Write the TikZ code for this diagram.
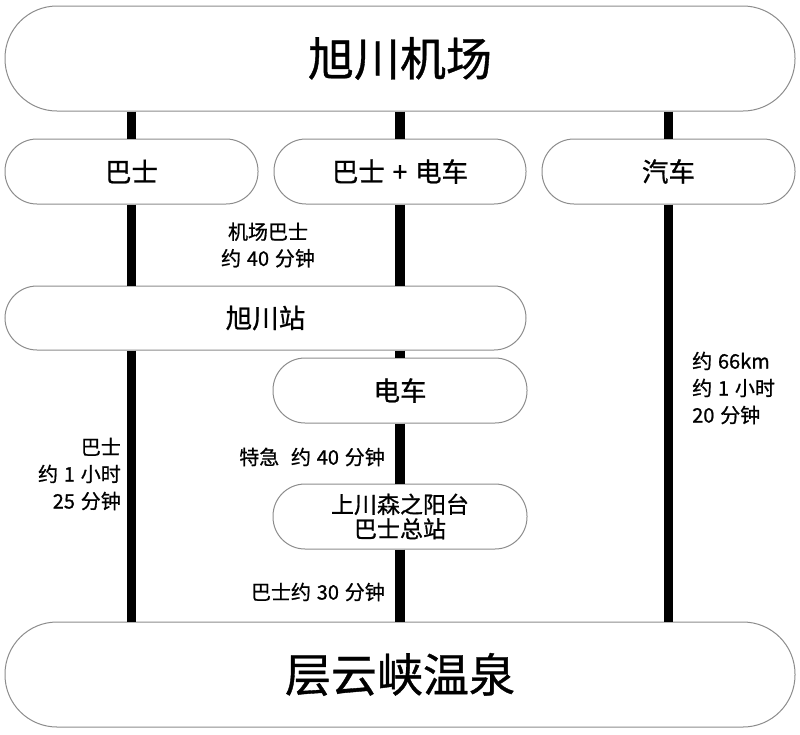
\documentclass[tikz,border=0pt]{standalone}
\usepackage{fontspec}
\setmainfont{Noto Sans CJK SC}[FakeBold=0.8, WordSpace=1.3]
\begin{document}
\begin{tikzpicture}[x=1pt,y=-1pt,
  stad/.style={draw=black!45, line width=1pt, fill=white, inner sep=0pt, align=center},
  bigbox/.style={stad, minimum width=790pt, minimum height=105pt, rounded corners=52pt, font=\fontsize{46}{50}\selectfont},
  midbox/.style={stad, minimum height=65pt, rounded corners=32pt, font=\fontsize{26.5}{30}\selectfont},
  lbl/.style={inner sep=0pt, font=\fontsize{20}{26.5}\selectfont},
  rail/.style={line width=9.5pt, line cap=butt, black}]
\useasboundingbox (0,0) rectangle (800,734);
\node[bigbox] (top) at (400,58.5) {旭川机场};
\node[midbox, minimum width=253pt] (busA) at (131.5,171.5) {巴士};
\node[midbox, minimum width=252pt] (busTrain) at (400,171.5) {巴士 + 电车};
\node[midbox, minimum width=253pt] (car) at (668.5,171.5) {汽车};
\node[midbox, minimum width=521pt, minimum height=64pt] (asahi) at (265.5,318) {旭川站};
\node[midbox, minimum width=254pt] (train) at (400,390.5) {电车};
\node[midbox, minimum width=254pt, font=\fontsize{23}{24.5}\selectfont] (kami) at (400,516.5) {上川森之阳台\\巴士总站};
\node[bigbox] (bottom) at (400,674.5) {层云峡温泉};
% rails
\draw[rail] (top.south -| busA.north) -- (busA.north);
\draw[rail] (busA.south) -- (asahi.north -| busA.south);
\draw[rail] (asahi.south -| busA.south) -- (bottom.north -| busA.south);
\draw[rail] (top.south -| busTrain.north) -- (busTrain.north);
\draw[rail] (busTrain.south) -- (asahi.north -| busTrain.south);
\draw[rail] (asahi.south -| train.north) -- (train.north);
\draw[rail] (train.south) -- (kami.north);
\draw[rail] (kami.south) -- (bottom.north -| kami.south);
\draw[rail] (top.south -| car.north) -- (car.north);
\draw[rail] (car.south) -- (bottom.north -| car.south);
% labels
\node[lbl, align=center] (l1) at (268,245) {机场巴士\\约 40 分钟};
\node[lbl, align=right, anchor=east, font=\fontsize{20}{27}\selectfont] (l2) at (121,474) {巴士\\约 1 小时\\25 分钟};
\node[lbl, align=left, anchor=west, font=\fontsize{20}{27}\selectfont] (l3) at (692,388) {约 66km\\约 1 小时\\20 分钟};
\node[lbl, anchor=east] (l4) at (385,457) {特急\ \ 约 40 分钟};
\node[lbl, anchor=east] (l5) at (385,592) {巴士约 30 分钟};
\end{tikzpicture}
\end{document}
